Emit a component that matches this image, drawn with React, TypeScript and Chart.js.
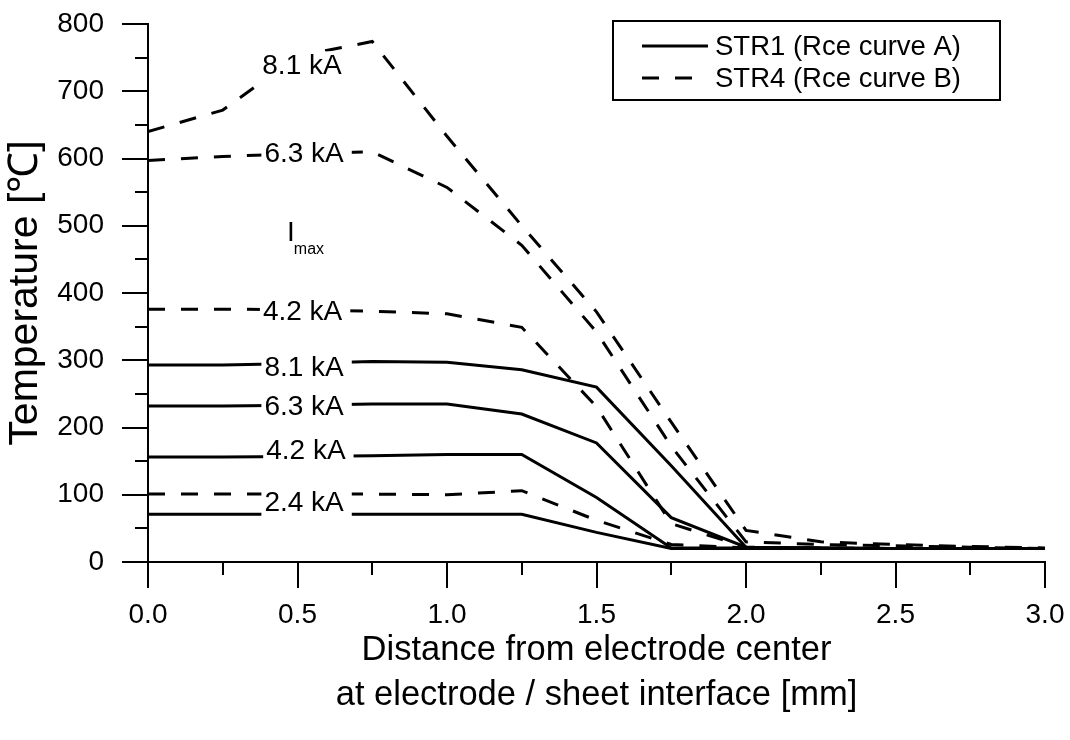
import React, { useEffect, useRef } from "react";
import { Chart, registerables } from "chart.js";

Chart.register(...registerables);

// ---- data ----
const distance = [0, 0.25, 0.5, 0.75, 1.0, 1.25, 1.5, 1.75, 2.0, 2.25, 2.5, 2.75, 3.0];

// STR1 (Rce curve A) - solid
const str1_81 = [293, 293, 295, 298, 297, 286, 260, 143, 22, 21, 20, 20, 20];
const str1_63 = [232, 232, 233, 235, 235, 220, 177, 66, 22, 21, 20, 20, 20];
const str1_42 = [156, 156, 157, 158, 160, 160, 96, 21, 21, 20, 20, 20, 20];
const str1_24 = [71, 71, 71, 71, 71, 71, 44, 20, 20, 20, 20, 20, 20];

// STR4 (Rce curve B) - dashed
const str4_81 = [640, 672, 752, 774, 633, 500, 372, 208, 47, 30, 26, 23, 21];
const str4_63 = [597, 603, 607, 610, 557, 471, 342, 172, 30, 26, 24, 22, 20];
const str4_42 = [376, 376, 375, 373, 369, 349, 231, 57, 22, 21, 20, 20, 20];
const str4_24 = [101, 101, 101, 101, 100, 106, 62, 26, 21, 20, 20, 20, 20];

const legendLabels = ["STR1 (Rce curve A)", "STR4 (Rce curve B)"];

// on-curve current annotations
const annoText = ["8.1 kA", "6.3 kA", "4.2 kA", "8.1 kA", "6.3 kA", "4.2 kA", "2.4 kA"];
const annoX = [0.515, 0.522, 0.517, 0.522, 0.522, 0.528, 0.522];
const annoY = [737, 607, 371, 288, 230, 165, 88];

const imaxMain = "I";
const imaxSub = "max";
const imaxX = 0.465;
const imaxY = 478;

const xMinorTicks = [0.25, 0.75, 1.25, 1.75, 2.25, 2.75];
const yMinorTicks = [50, 150, 250, 350, 450, 550, 650, 750];

const xTitle = ["Distance from electrode center", "at electrode / sheet interface [mm]"];
const yTitle = "Temperature [\u2103]";

const FONT = "'Liberation Sans', Arial, Helvetica, sans-serif";
const DASH = [17, 16];

function toPoints(vals: number[]) {
  return vals.map((v, i) => ({ x: distance[i], y: v }));
}

const decorPlugin = {
  id: "decor",
  afterDatasetsDraw(chart: any) {
    const { ctx, scales } = chart;
    const xs = scales.x;
    const ys = scales.y;
    ctx.save();
    // minor ticks
    ctx.strokeStyle = "#000";
    ctx.lineWidth = 2;
    ctx.beginPath();
    for (const v of yMinorTicks) {
      const py = Math.round(ys.getPixelForValue(v));
      ctx.moveTo(xs.left - 13, py);
      ctx.lineTo(xs.left, py);
    }
    for (const v of xMinorTicks) {
      const px = Math.round(xs.getPixelForValue(v));
      ctx.moveTo(px, ys.bottom);
      ctx.lineTo(px, ys.bottom + 13);
    }
    ctx.stroke();

    // annotations with white background
    ctx.font = `28px ${FONT}`;
    ctx.textBaseline = "middle";
    ctx.textAlign = "center";
    for (let i = 0; i < annoText.length; i++) {
      const px = xs.getPixelForValue(annoX[i]);
      const py = ys.getPixelForValue(annoY[i]);
      const w = ctx.measureText(annoText[i]).width;
      ctx.fillStyle = "#fff";
      ctx.fillRect(px - w / 2 - 3, py - 15, w + 11, 30);
      ctx.fillStyle = "#000";
      ctx.fillText(annoText[i], px, py);
    }

    // I_max
    const ix = xs.getPixelForValue(imaxX);
    const iy = ys.getPixelForValue(imaxY);
    ctx.textAlign = "left";
    ctx.textBaseline = "alphabetic";
    ctx.font = `28px ${FONT}`;
    ctx.fillText(imaxMain, ix, iy);
    const iw = ctx.measureText(imaxMain).width;
    ctx.font = `16px ${FONT}`;
    ctx.fillText(imaxSub, ix + iw - 1, iy + 13);

    // legend
    const bx = 613, by = 21, bw = 387, bh = 79;
    ctx.fillStyle = "#fff";
    ctx.fillRect(bx, by, bw, bh);
    ctx.strokeStyle = "#000";
    ctx.lineWidth = 2;
    ctx.strokeRect(bx, by, bw, bh);
    const rows = [46, 78];
    ctx.font = `27.5px ${FONT}`;
    ctx.textBaseline = "middle";
    for (let r = 0; r < legendLabels.length; r++) {
      ctx.beginPath();
      ctx.lineWidth = 3;
      ctx.setLineDash(r === 0 ? [] : DASH);
      ctx.moveTo(642, rows[r]);
      ctx.lineTo(708, rows[r]);
      ctx.stroke();
      ctx.setLineDash([]);
      ctx.fillStyle = "#000";
      ctx.fillText(legendLabels[r], 715, rows[r] + 1);
    }
    ctx.restore();
  },
};

export default function App() {
  const ref = useRef<HTMLCanvasElement | null>(null);

  useEffect(() => {
    document.body.style.margin = "0";
    if (!ref.current) return;
    const mk = (label: string, vals: number[], dashed: boolean) => ({
      label,
      data: toPoints(vals),
      borderColor: "#000",
      backgroundColor: "#000",
      borderWidth: 3,
      borderDash: dashed ? DASH : [],
      pointRadius: 0,
      tension: 0,
      fill: false,
    });
    const chart = new Chart(ref.current, {
      type: "line",
      data: {
        datasets: [
          mk("STR1 8.1 kA", str1_81, false),
          mk("STR1 6.3 kA", str1_63, false),
          mk("STR1 4.2 kA", str1_42, false),
          mk("STR1 2.4 kA", str1_24, false),
          mk("STR4 8.1 kA", str4_81, true),
          mk("STR4 6.3 kA", str4_63, true),
          mk("STR4 4.2 kA", str4_42, true),
          mk("STR4 2.4 kA", str4_24, true),
        ],
      },
      options: {
        responsive: false,
        animation: false,
        layout: { padding: { left: 0, right: 25, top: 24, bottom: 0 } },
        plugins: { legend: { display: false }, tooltip: { enabled: false } },
        scales: {
          x: {
            type: "linear",
            min: 0,
            max: 3,
            ticks: {
              stepSize: 0.5,
              color: "#000",
              padding: 10,
              font: { family: FONT, size: 28 },
              callback: (v: any) => Number(v).toFixed(1),
            },
            grid: { display: true, drawOnChartArea: false, drawTicks: true, tickLength: 26, color: "#000", lineWidth: 2 },
            border: { display: true, color: "#000", width: 2 },
            title: {
              display: true,
              text: xTitle,
              color: "#000",
              font: { family: FONT, size: 34.5, lineHeight: 1.3 },
              padding: { top: 0, bottom: 22 },
            },
            afterFit: (s: any) => {
              s.height = 178;
              s.paddingLeft = 0;
              s.paddingRight = 0;
            },
          },
          y: {
            type: "linear",
            min: 0,
            max: 800,
            ticks: {
              stepSize: 100,
              color: "#000",
              padding: 18,
              font: { family: FONT, size: 28 },
            },
            grid: { display: true, drawOnChartArea: false, drawTicks: true, tickLength: 26, color: "#000", lineWidth: 2 },
            border: { display: true, color: "#000", width: 2 },
            title: {
              display: true,
              text: yTitle,
              color: "#000",
              font: { family: FONT, size: 41, lineHeight: 1.2 },
              padding: { top: 1, bottom: 0 },
            },
            afterFit: (s: any) => {
              s.width = 148;
              s.paddingTop = 0;
              s.paddingBottom = 0;
            },
          },
        },
      } as any,
      plugins: [decorPlugin],
    });
    return () => chart.destroy();
  }, []);

  return <canvas ref={ref} width={1070} height={740} style={{ display: "block" }} />;
}
